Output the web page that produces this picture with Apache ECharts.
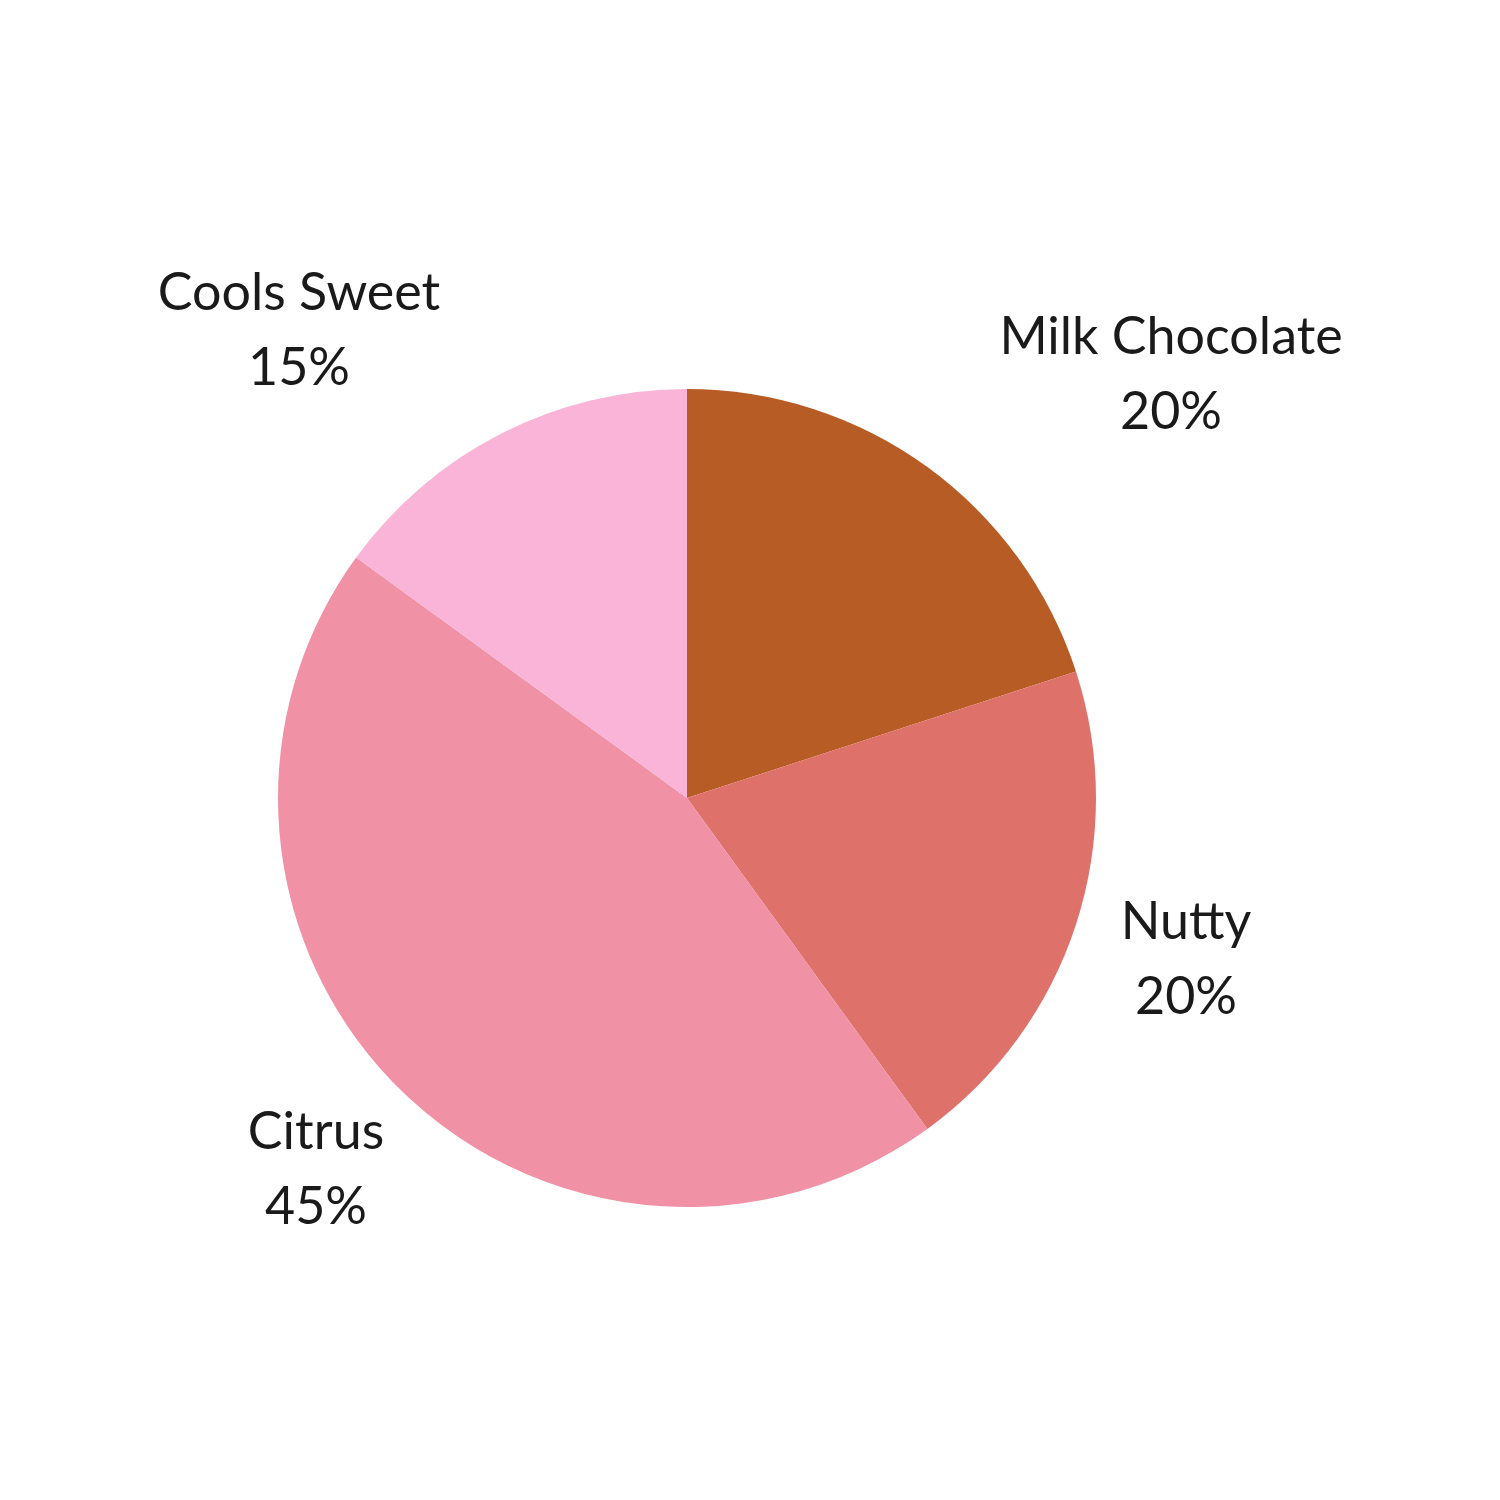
<!DOCTYPE html>
<html>
<head>
<meta charset="utf-8">
<script src="https://cdn.jsdelivr.net/npm/echarts@6/dist/echarts.min.js"></script>
<style>
html,body{margin:0;padding:0;background:#fff;}
#chart{width:1500px;height:1500px;}
</style>
</head>
<body>
<div id="chart"></div>
<script>
const categories = ['Milk Chocolate', 'Nutty', 'Citrus', 'Cools Sweet'];
const values = [20, 20, 45, 15];
const colors = ['#B85C25', '#DE726B', '#F191A5', '#F9B4D7'];

const pieCenter = [687, 798];
const pieRadius = 409;
// label block centres, relative to the pie centre
const labelOffsets = [[484, -423], [499, 162], [-371, 372], [-388, -467]];

const chart = echarts.init(document.getElementById('chart'));
chart.setOption({
  animation: false,
  backgroundColor: '#ffffff',
  series: [{
    type: 'pie',
    center: pieCenter,
    radius: pieRadius,
    startAngle: 90,
    clockwise: true,
    silent: true,
    data: categories.map((c, i) => ({ name: c, value: values[i], itemStyle: { color: colors[i] } })),
    label: {
      show: true,
      position: 'outside',
      formatter: (p) => p.name + '\n' + p.value + '%',
      fontFamily: 'Lato',
      fontSize: 52,
      lineHeight: 75,
      color: '#1a1a1a',
      align: 'center'
    },
    labelLine: { show: false },
    labelLayout: (params) => ({
      x: pieCenter[0] + labelOffsets[params.dataIndex][0],
      y: pieCenter[1] + labelOffsets[params.dataIndex][1],
      align: 'center',
      verticalAlign: 'middle'
    })
  }]
});
</script>
</body>
</html>
